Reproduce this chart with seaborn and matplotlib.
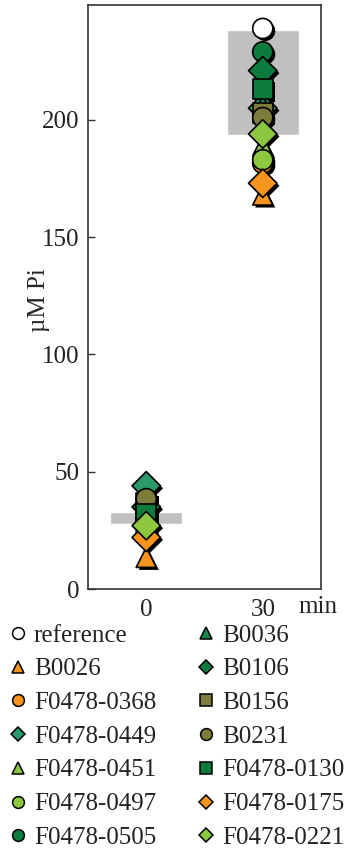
import numpy as np
import pandas as pd
import seaborn as sns
import matplotlib.pyplot as plt
from matplotlib import patheffects as pe
from matplotlib.lines import Line2D

# Compounds (legend order, also drawing order)
compounds = [
    "reference", "B0026", "F0478-0368", "F0478-0449", "F0478-0451",
    "F0478-0497", "F0478-0505", "B0036", "B0106", "B0156", "B0231",
    "F0478-0130", "F0478-0175", "F0478-0221",
]
time_labels = ["0", "30"]

# Released phosphate (µM Pi) at 0 and 30 min
pi_0 = [30.0, 13.5, 24.0, 44.0, 24.5, 28.0, 33.0, 34.0, 35.0, 36.5, 38.5, 32.0, 22.0, 27.0]
pi_30 = [239.0, 168.0, 181.5, 205.0, 189.0, 183.0, 229.0, 206.0, 221.0, 203.0, 201.0, 213.0, 173.0, 194.0]

# Control range (grey bands)
band_low = [27.7, 193.5]
band_high = [32.8, 238.5]

ORANGE = "#f7941d"
LIGHT = "#8dc63f"
TEAL = "#2a9a6a"
DARK = "#0d7a3e"
DARK2 = "#17894a"
OLIVE = "#7d7c3a"
colors = {
    "reference": "white", "B0026": ORANGE, "F0478-0368": ORANGE,
    "F0478-0449": TEAL, "F0478-0451": LIGHT, "F0478-0497": LIGHT,
    "F0478-0505": DARK, "B0036": DARK2, "B0106": DARK, "B0156": OLIVE,
    "B0231": OLIVE, "F0478-0130": DARK, "F0478-0175": ORANGE,
    "F0478-0221": LIGHT,
}
markers = {
    "reference": "o", "B0026": "^", "F0478-0368": "o", "F0478-0449": "D",
    "F0478-0451": "^", "F0478-0497": "o", "F0478-0505": "o", "B0036": "^",
    "B0106": "D", "B0156": "s", "B0231": "o", "F0478-0130": "s",
    "F0478-0175": "D", "F0478-0221": "D",
}

rows = []
for i, c in enumerate(compounds):
    rows.append({"compound": c, "time": time_labels[0], "pi": pi_0[i]})
    rows.append({"compound": c, "time": time_labels[1], "pi": pi_30[i]})
df = pd.DataFrame(rows)

sns.set_theme(style="white")
plt.rcParams["font.family"] = ["Liberation Serif", "DejaVu Serif"]
plt.rcParams["font.size"] = 18

fig = plt.figure(figsize=(3.57, 8.56), dpi=100)
ax = fig.add_axes([88 / 357, 1 - 589 / 856, 233 / 357, 584 / 856])

heights = [h - l for h, l in zip(band_high, band_low)]
ax.bar(time_labels, heights, bottom=band_low, width=0.62, color="#c0c0c0", zorder=1)

sns.scatterplot(
    data=df, x="time", y="pi", hue="compound", style="compound",
    palette=colors, markers=markers, s=210, edgecolor="black",
    linewidth=1.2, ax=ax, zorder=3, legend=False,
)
for coll in ax.collections:
    coll.set_path_effects([
        pe.SimplePatchShadow(offset=(1.8, -1.8), shadow_rgbFace="black", alpha=1.0),
        pe.Normal(),
    ])

ax.set_xlim(-0.5, 1.5)
ax.set_ylim(0, 249)
ax.set_yticks([0, 50, 100, 150, 200])
ax.set_xlabel("")
ax.set_ylabel("µM Pi", fontsize=18)
ax.yaxis.set_label_coords((50 - 88) / 233, (589 - 300) / 584)
ax.set_xticks([0, 1])
ax.set_xticklabels(time_labels)
ax.set_xticks([0.5], minor=True)
ax.tick_params(axis="x", which="major", length=0, pad=7, labelsize=18, labelcolor="#222222")
ax.tick_params(axis="x", which="minor", length=5, direction="in", width=1, color="#333333")
ax.tick_params(axis="y", which="major", length=5, direction="in", width=1, pad=6,
               labelsize=18, labelcolor="#222222", color="#333333", left=True)
for sp in ax.spines.values():
    sp.set_visible(True)
    sp.set_color("#333333")
    sp.set_linewidth(1.2)

ax.text(0.987, -0.012, "min", transform=ax.transAxes, ha="center", va="top",
        fontsize=18, color="#222222")

handles = [
    Line2D([], [], linestyle="none", marker=markers[c], markersize=8.5 if markers[c] != "D" else 7,
           markerfacecolor=colors[c], markeredgecolor="black", markeredgewidth=1.1)
    for c in compounds
]
fig.legend(handles, compounds, ncol=2, loc="upper left",
           bbox_to_anchor=(0.0, 1 - 614 / 856), frameon=False,
           handlelength=0.6, handletextpad=0.35, columnspacing=1.68,
           labelspacing=0.45, borderaxespad=0, fontsize=18,
           labelcolor="#222222")

fig.savefig("out.png", dpi=100)
